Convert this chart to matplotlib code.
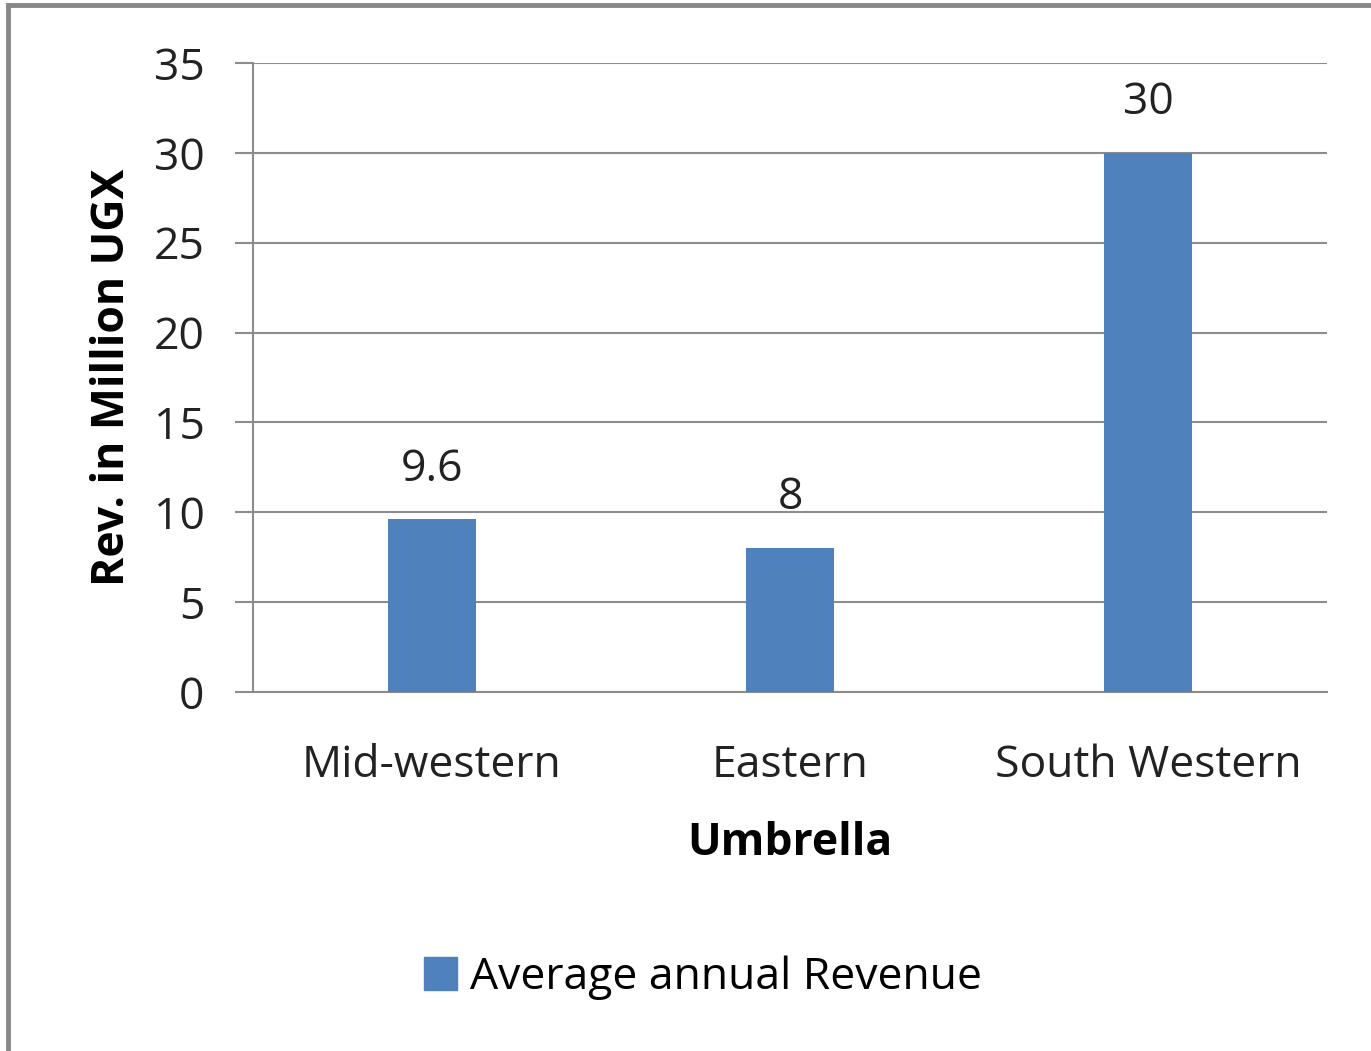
import numpy as np
import matplotlib.pyplot as plt
from matplotlib.lines import Line2D
from matplotlib.patches import Patch

regions = ["Mid-western", "Eastern", "South Western"]
revenue = [9.6, 8, 30]
value_labels = ["9.6", "8", "30"]
y_ticks = [0, 5, 10, 15, 20, 25, 30, 35]

plt.rcParams["font.family"] = ["Open Sans", "DejaVu Sans"]
BAR = "#4F81BD"
GRID = "#8c8c8c"
FS = 32

fig = plt.figure(figsize=(13.71, 10.51), dpi=100)
fig.patch.set_facecolor("white")

# frame lines (top + left only visible in the reference)
fig.add_artist(Line2D([8/1371, 8/1371], [0, 1 - 5/1051], color="#888888", lw=3.5,
                      transform=fig.transFigure))
fig.add_artist(Line2D([8/1371, 1], [1 - 5/1051, 1 - 5/1051], color="#888888", lw=3.5,
                      transform=fig.transFigure))

ax = fig.add_axes([253/1371, 1 - 692/1051, (1327 - 253)/1371, (692 - 63)/1051])
x = np.arange(len(regions))
ax.bar(x, revenue, width=0.246, color=BAR, zorder=3)
for xi, v, s in zip(x, revenue, value_labels):
    ax.annotate(s, (xi, v), xytext=(0, 20), textcoords="offset points",
                ha="center", va="bottom", fontsize=FS, color="#222222")

ax.set_xlim(-0.5, 2.5)
ax.set_ylim(0, 35)
ax.set_yticks(y_ticks)
ax.set_xticks(x)
ax.set_xticklabels(regions)
ax.yaxis.grid(True, color=GRID, lw=1.5, zorder=0)
ax.tick_params(axis="y", length=13, width=1.5, color=GRID, labelsize=FS, pad=22,
               labelcolor="#222222")
ax.tick_params(axis="x", length=0, labelsize=FS, pad=37, labelcolor="#222222")
for side in ["top", "right"]:
    ax.spines[side].set_visible(False)
for side in ["left", "bottom"]:
    ax.spines[side].set_color(GRID)
    ax.spines[side].set_linewidth(1.5)

ax.set_ylabel("Rev. in Million UGX", fontsize=FS, fontweight="bold", labelpad=13)
ax.set_xlabel("Umbrella", fontsize=FS, fontweight="bold", labelpad=24)

fig.legend(handles=[Patch(color=BAR, label="Average annual Revenue")],
           loc="center", bbox_to_anchor=(703/1371, 1 - 978/1051), frameon=False,
           fontsize=FS, handlelength=0.75, handleheight=0.75, handletextpad=0.3)

fig.savefig("out.png", dpi=100, facecolor="white")
